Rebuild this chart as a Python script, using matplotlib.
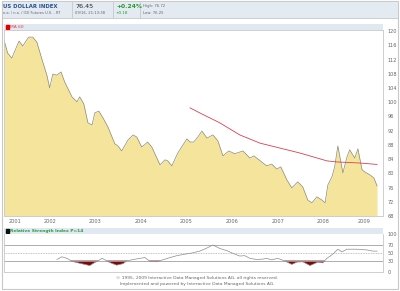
import numpy as np
import matplotlib.pyplot as plt
from matplotlib.patches import Rectangle

# US Dollar Index, fiyat egrisi (yil, deger)
price_years = [2001.50, 2001.58, 2001.67, 2001.83, 2001.91, 2002.04, 2002.13, 2002.22,
               2002.35, 2002.44, 2002.50, 2002.57, 2002.66, 2002.75, 2002.83, 2002.99,
               2003.10, 2003.16, 2003.25, 2003.34, 2003.43, 2003.49, 2003.58, 2003.67,
               2003.78, 2003.93, 2004.00, 2004.08, 2004.22, 2004.33, 2004.41, 2004.52,
               2004.65, 2004.74, 2004.92, 2005.03, 2005.09, 2005.18, 2005.31, 2005.51,
               2005.58, 2005.66, 2005.75, 2005.84, 2005.95, 2006.08, 2006.19, 2006.30,
               2006.43, 2006.56, 2006.74, 2006.89, 2006.98, 2007.15, 2007.26, 2007.37,
               2007.48, 2007.57, 2007.70, 2007.81, 2007.94, 2008.05, 2008.16, 2008.25,
               2008.36, 2008.47, 2008.54, 2008.60, 2008.69, 2008.75, 2008.82, 2008.93,
               2009.02, 2009.08, 2009.19, 2009.26, 2009.35, 2009.41, 2009.52, 2009.61,
               2009.68]
price_values = [117.5, 113.8, 112.4, 117.2, 115.8, 118.3, 118.3, 116.9,
                111.3, 107.6, 104.0, 107.9, 107.6, 108.5, 105.7, 101.5,
                100.1, 101.5, 99.5, 94.2, 93.6, 97.0, 97.5, 95.6,
                93.0, 88.3, 87.7, 86.3, 89.4, 90.8, 90.2, 87.4,
                88.8, 87.4, 82.4, 83.8, 83.5, 82.1, 85.7, 89.7,
                88.8, 88.8, 90.2, 91.9, 89.9, 90.8, 89.1, 84.9,
                86.3, 85.5, 86.3, 84.3, 84.9, 83.2, 82.1, 82.6,
                81.2, 81.8, 78.2, 75.9, 77.6, 76.2, 72.5, 71.7,
                73.4, 72.5, 71.7, 76.7, 79.0, 81.8, 87.7, 80.1,
                84.6, 86.6, 84.3, 86.9, 81.0, 80.4, 79.6, 78.7,
                76.45]

# MA 60
ma_years = [2005.58, 2005.79, 2006.23, 2006.67, 2007.11, 2007.55, 2007.99,
            2008.58, 2008.80, 2009.30, 2009.68]
ma_values = [98.4, 97.0, 94.2, 90.8, 88.5, 87.1, 85.7, 83.5, 83.2, 82.9, 82.5]

# Relative Strength Index P=14
rsi_years = [2002.66, 2002.77, 2002.88, 2002.99, 2003.16, 2003.38, 2003.49, 2003.56,
             2003.65, 2003.71, 2003.82, 2003.97, 2004.11, 2004.19, 2004.30, 2004.48,
             2004.59, 2004.70, 2004.85, 2004.98, 2005.14, 2005.29, 2005.47, 2005.62,
             2005.79, 2005.93, 2006.08, 2006.23, 2006.39, 2006.52, 2006.67, 2006.78,
             2006.89, 2007.04, 2007.18, 2007.26, 2007.37, 2007.50, 2007.66, 2007.81,
             2007.92, 2008.05, 2008.21, 2008.38, 2008.49, 2008.58, 2008.71, 2008.82,
             2008.91, 2009.02, 2009.24, 2009.46, 2009.59, 2009.68]
rsi_values = [33, 40, 36, 28, 23, 17, 25, 29,
              36, 32, 25, 18, 22, 29, 32, 36,
              38, 28, 27, 32, 38, 43, 47, 50,
              55, 62, 71, 62, 56, 49, 42, 43,
              36, 33, 34, 36, 32, 36, 29, 20,
              26, 27, 17, 26, 24, 36, 47, 60,
              53, 60, 60, 58, 55, 55]

price_ticks = list(range(68, 121, 4))
rsi_ticks = [0, 30, 50, 70, 100]
year_labels = list(range(2001, 2010))

W, H = 400, 291
XMIN, XMAX = 2001.50, 2009.81
gray_txt = '#666666'
border = '#c8c8c8'


def fr(x0, y0, x1, y1):
    # piksel kutusu -> figure kesri
    return [x0 / W, 1 - y1 / H, (x1 - x0) / W, (y1 - y0) / H]


fig = plt.figure(figsize=(4, 2.91), dpi=100)
fig.patch.set_facecolor('white')

# dis cerceve
fig.patches.append(Rectangle((1.5 / W, 1 - 289 / H), 396 / W, 288 / H, transform=fig.transFigure,
                             fill=False, edgecolor=border, linewidth=0.8))

# baslik seridi
fig.patches.append(Rectangle((1.5 / W, 1 - 18 / H), 396 / W, 17 / H, transform=fig.transFigure,
                             facecolor='#e3eaf2', edgecolor=border, linewidth=0.6))
for xs in [72, 113, 140]:
    fig.add_artist(plt.Line2D([xs / W, xs / W], [1 - 18 / H, 1 - 1.5 / H], color=border, linewidth=0.6))
fig.text(3 / W, 1 - 6.5 / H, 'US DOLLAR INDEX', fontsize=3.9, fontweight='bold', color='#27538f', va='center')
fig.text(3 / W, 1 - 13.5 / H, 'n.a. / n.a. / ICE Futures U.S. - RT', fontsize=2.6, color=gray_txt, va='center')
fig.text(75 / W, 1 - 6.5 / H, '76.45', fontsize=4.6, color='#222222', va='center')
fig.text(75 / W, 1 - 13.5 / H, '09/16, 21:13:38', fontsize=2.7, color=gray_txt, va='center')
fig.text(116 / W, 1 - 6.5 / H, '+0.24%', fontsize=4.3, fontweight='bold', color='#1e9a2a', va='center')
fig.text(116 / W, 1 - 13.5 / H, '+0.18', fontsize=3.0, color='#1e9a2a', va='center')
fig.text(143 / W, 1 - 6.5 / H, 'High: 76.72', fontsize=2.7, color=gray_txt, va='center')
fig.text(143 / W, 1 - 13.5 / H, 'Low: 76.25', fontsize=2.7, color=gray_txt, va='center')

# ana grafik
ax = fig.add_axes(fr(4, 30, 383, 216))
ax.fill_between(price_years, price_values, 68, color='#f5e59c', linewidth=0)
ax.plot(price_years, price_values, color='#8a8a7a', linewidth=0.5)
ax.plot(ma_years, ma_values, color='#d9404f', linewidth=0.6)
ax.set_xlim(XMIN, XMAX)
ax.set_ylim(68, 120.3)
ax.yaxis.tick_right()
ax.set_yticks(price_ticks)
ax.tick_params(axis='y', length=0, labelsize=3.6, labelcolor=gray_txt, pad=3)
centers = [(max(y, XMIN) + min(y + 1, XMAX)) / 2 for y in year_labels]
ax.set_xticks(centers)
ax.set_xticklabels([str(y) for y in year_labels])
ax.tick_params(axis='x', length=0, labelsize=3.6, labelcolor=gray_txt, pad=2)
for s in ax.spines.values():
    s.set_color(border)
    s.set_linewidth(0.6)

# MA 60 gosterge seridi
leg = fig.add_axes(fr(4, 24, 383, 30))
leg.set_facecolor('#e0e8f1')
leg.set_xticks([]), leg.set_yticks([])
for s in leg.spines.values():
    s.set_visible(False)
leg.add_patch(Rectangle((0.004, 0.2), 0.008, 0.6, transform=leg.transAxes, color='#e00000'))
leg.text(0.016, 0.5, 'MA 60', transform=leg.transAxes, fontsize=3.2, color='#e04040', va='center')

# RSI paneli
ax2 = fig.add_axes(fr(4, 234, 383, 272))
ry = np.array(rsi_years)
rv = np.array(rsi_values)
ax2.axhline(70, color='#a0a0a0', linewidth=0.6)
ax2.axhline(30, color='#a0a0a0', linewidth=0.6)
ax2.axhline(50, color='#b0b0b0', linewidth=0.6, linestyle=(0, (1, 1)))
ax2.fill_between(ry, rv, 30, where=rv < 30, interpolate=True, color='#7a0a0a', linewidth=0)
ax2.plot(ry, rv, color='#8c8c8c', linewidth=0.5)
ax2.set_xlim(XMIN, XMAX)
ax2.set_ylim(0, 100)
ax2.yaxis.tick_right()
ax2.set_yticks(rsi_ticks)
ax2.tick_params(axis='y', length=0, labelsize=3.6, labelcolor=gray_txt, pad=3)
ax2.set_xticks([])
for s in ax2.spines.values():
    s.set_color(border)
    s.set_linewidth(0.6)
ax2.spines['top'].set_visible(False)

leg2 = fig.add_axes(fr(4, 228, 383, 234))
leg2.set_facecolor('#e0e8f1')
leg2.set_xticks([]), leg2.set_yticks([])
for s in leg2.spines.values():
    s.set_visible(False)
leg2.add_patch(Rectangle((0.004, 0.2), 0.008, 0.6, transform=leg2.transAxes, color='#111111'))
leg2.text(0.016, 0.5, 'Relative Strength Index P=14', transform=leg2.transAxes, fontsize=3.2,
          color='#2a9a3a', fontweight='bold', va='center')

# alt bilgi
fig.text(197 / W, 1 - 278 / H, '\u00a9 1995- 2009 Interactive Data Managed Solutions AG, all rights reserved.',
         fontsize=3.2, color=gray_txt, ha='center', va='center')
fig.text(197 / W, 1 - 283.5 / H, 'Implemented and powered by Interactive Data Managed Solutions AG.',
         fontsize=3.2, color=gray_txt, ha='center', va='center')

fig.savefig('out.png', dpi=100)
